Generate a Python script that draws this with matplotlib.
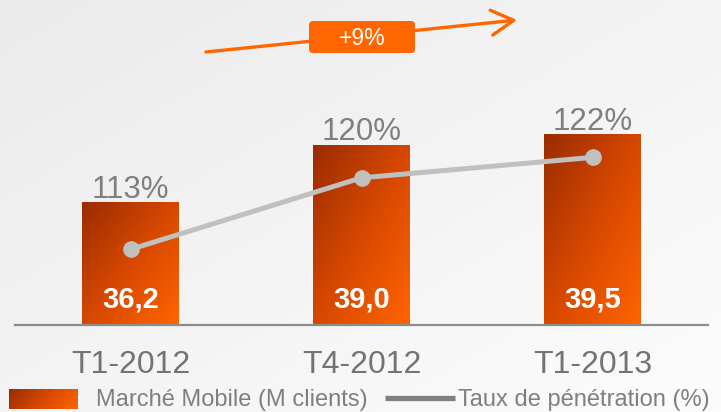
import numpy as np
import matplotlib
matplotlib.use('Agg')
import matplotlib.pyplot as plt
from matplotlib.colors import LinearSegmentedColormap
from matplotlib.patches import FancyBboxPatch

# ---------------- data ----------------
periods = ['T1-2012', 'T4-2012', 'T1-2013']
market = [36.2, 39.0, 39.5]                 # Marché Mobile (M clients)
market_labels = ['36,2', '39,0', '39,5']
penetration = [113, 120, 122]               # Taux de pénétration (%)
growth_label = '+9%'
legend_bar = 'Marché Mobile (M clients)'
legend_line = 'Taux de pénétration (%)'

plt.rcParams['font.family'] = ['Liberation Sans', 'DejaVu Sans']

orange = '#ff6600'
bar_cmap = LinearSegmentedColormap.from_list('bar', ['#9a2c00', '#d64800', '#ff6400'])
bg_cmap = LinearSegmentedColormap.from_list('bg', ['#ebebeb', '#fcfcfc'])


def diag(h, w, kx=0.5, ky=0.5):
    yy, xx = np.mgrid[0:1:h * 1j, 0:1:w * 1j]
    return kx * xx + ky * yy


fig = plt.figure(figsize=(7.21, 4.12), dpi=100)

# background in pixel coordinates (y downwards)
bg = fig.add_axes([0, 0, 1, 1], zorder=-10)
bg.imshow(diag(100, 100), cmap=bg_cmap, aspect='auto', extent=[0, 721, 412, 0])
bg.set_xlim(0, 721)
bg.set_ylim(412, 0)
bg.axis('off')

# ---------------- bars ----------------
ax = fig.add_axes([15 / 721, 87 / 412, 693 / 721, 325 / 412])
ax.patch.set_alpha(0)
ymin, ymax = 30.2, 46.05
x = np.arange(len(periods))
bars = ax.bar(x, market, width=0.416, color='none', zorder=2)
for rect in bars:
    x0 = rect.get_x()
    im = ax.imshow(diag(100, 60), cmap=bar_cmap, aspect='auto', zorder=2,
                   extent=[x0, x0 + rect.get_width(), ymin, rect.get_height()])
    im.set_clip_path(rect)

ax.set_xlim(-0.5, 2.5)
ax.set_ylim(ymin, ymax)
for s in ['top', 'left', 'right']:
    ax.spines[s].set_visible(False)
ax.spines['bottom'].set_color('#8c8c8c')
ax.spines['bottom'].set_linewidth(1.6)
ax.set_yticks([])
ax.set_xticks(x)
ax.set_xticklabels(periods)
ax.tick_params(axis='x', length=0, pad=18, labelsize=23, labelcolor='#737373')

for xi, v, lab, p in zip(x, market, market_labels, penetration):
    ax.annotate(lab, (xi, ymin), xytext=(0, 12.5), textcoords='offset points',
                ha='center', va='baseline', color='white', fontsize=21, fontweight='bold')
    ax.annotate(f'{p}%', (xi, v), xytext=(0, 3), textcoords='offset points',
                ha='center', va='baseline', color='#7f7f7f', fontsize=22.5)

# ---------------- line ----------------
ax2 = ax.twinx()
ax2.plot(x, penetration, color='#c0c0c0', lw=3.6, marker='o', ms=11,
         solid_capstyle='round', zorder=3)
ax2.set_ylim(105.6, 137.4)
ax2.axis('off')

# ---------------- growth arrow ----------------
bg.annotate('', xy=(517, 20), xytext=(206, 52),
            arrowprops=dict(arrowstyle='->,head_length=0.8,head_width=0.45',
                            color=orange, lw=2.4, mutation_scale=20,
                            shrinkA=0, shrinkB=0))
box = FancyBboxPatch((309, 21), 106, 32, boxstyle='round,pad=0,rounding_size=4',
                     facecolor=orange, edgecolor='none', zorder=5)
bg.add_patch(box)
bg.text(362, 38, growth_label, ha='center', va='center', color='white',
        fontsize=16.5, zorder=6)

# ---------------- legend ----------------
bg.imshow(diag(30, 100, kx=0.8, ky=0.2), cmap=bar_cmap, aspect='auto',
          extent=[9, 78, 409, 389], zorder=2)
bg.text(96, 406, legend_bar, ha='left', va='baseline', color='#7f7f7f', fontsize=17)
bg.plot([385, 455], [398, 398], color='#808080', lw=3.8, solid_capstyle='butt')
bg.text(458, 406, legend_line, ha='left', va='baseline', color='#7f7f7f', fontsize=17)
bg.set_xlim(0, 721)
bg.set_ylim(412, 0)

fig.savefig('out.png', dpi=100)
